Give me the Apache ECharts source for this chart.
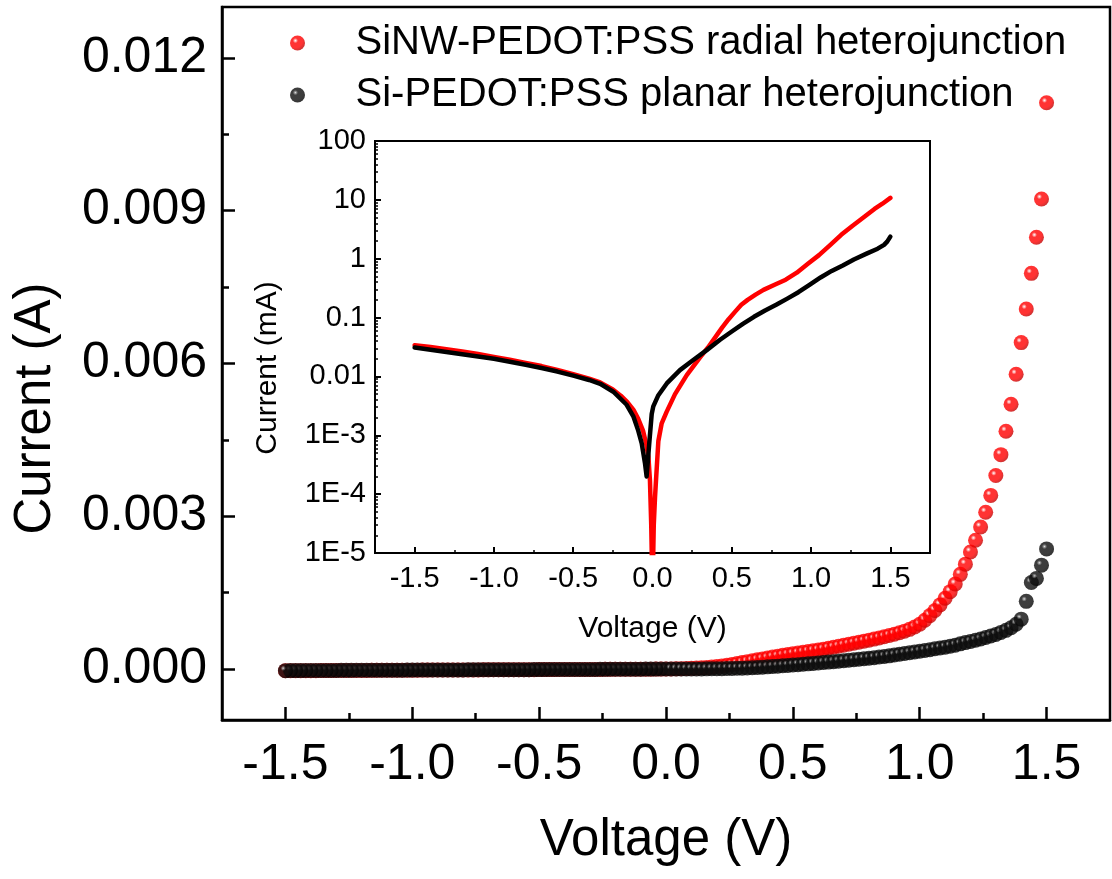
<!DOCTYPE html>
<html>
<head>
<meta charset="utf-8">
<title>I-V characteristics</title>
<script src="https://cdn.jsdelivr.net/npm/echarts@6/dist/echarts.min.js"></script>
<style>
  html, body { margin: 0; padding: 0; background: #fff; }
  #chart { width: 1112px; height: 879px; }
</style>
</head>
<body>
<div id="chart"></div>
<script>
// ---------- data ----------
const seriesNames = ['SiNW-PEDOT:PSS radial heterojunction', 'Si-PEDOT:PSS planar heterojunction'];

// voltage sweep: 0 V down to -1.5 V, then 0 V up to +1.5 V (V)
const reverseVoltage = [0, -0.02, -0.04, -0.06, -0.08, -0.1, -0.12, -0.14, -0.16, -0.18, -0.2, -0.22, -0.24, -0.26, -0.28, -0.3, -0.32, -0.34, -0.36, -0.38, -0.4, -0.42, -0.44, -0.46, -0.48, -0.5, -0.52, -0.54, -0.56, -0.58, -0.6, -0.62, -0.64, -0.66, -0.68, -0.7, -0.72, -0.74, -0.76, -0.78, -0.8, -0.82, -0.84, -0.86, -0.88, -0.9, -0.92, -0.94, -0.96, -0.98, -1, -1.02, -1.04, -1.06, -1.08, -1.1, -1.12, -1.14, -1.16, -1.18, -1.2, -1.22, -1.24, -1.26, -1.28, -1.3, -1.32, -1.34, -1.36, -1.38, -1.4, -1.42, -1.44, -1.46, -1.48, -1.5];
const forwardVoltage = [0.02, 0.04, 0.06, 0.08, 0.1, 0.12, 0.14, 0.16, 0.18, 0.2, 0.22, 0.24, 0.26, 0.28, 0.3, 0.32, 0.34, 0.36, 0.38, 0.4, 0.42, 0.44, 0.46, 0.48, 0.5, 0.52, 0.54, 0.56, 0.58, 0.6, 0.62, 0.64, 0.66, 0.68, 0.7, 0.72, 0.74, 0.76, 0.78, 0.8, 0.82, 0.84, 0.86, 0.88, 0.9, 0.92, 0.94, 0.96, 0.98, 1, 1.02, 1.04, 1.06, 1.08, 1.1, 1.12, 1.14, 1.16, 1.18, 1.2, 1.22, 1.24, 1.26, 1.28, 1.3, 1.32, 1.34, 1.36, 1.38, 1.4, 1.42, 1.44, 1.46, 1.48, 1.5];

// currents in mA
const radialReverse = [0, -0.00026, -0.0006, -0.0012, -0.0017, -0.0022, -0.0027, -0.0032, -0.0036, -0.004, -0.0045, -0.005, -0.0055, -0.006, -0.0065, -0.007, -0.0075, -0.008, -0.0084, -0.0088, -0.0092, -0.0095, -0.0099, -0.0102, -0.0105, -0.0108, -0.0112, -0.0116, -0.012, -0.0124, -0.0128, -0.0132, -0.0136, -0.014, -0.0145, -0.015, -0.0154, -0.0158, -0.0162, -0.0166, -0.017, -0.0175, -0.0179, -0.0183, -0.0188, -0.0192, -0.0196, -0.0201, -0.0205, -0.021, -0.0215, -0.022, -0.0225, -0.023, -0.0235, -0.024, -0.0245, -0.025, -0.0255, -0.026, -0.0265, -0.027, -0.0275, -0.028, -0.0285, -0.029, -0.0295, -0.03, -0.0305, -0.031, -0.0315, -0.032, -0.0325, -0.033, -0.0335, -0.034];
const radialForward = [0.002, 0.004, 0.007, 0.01, 0.014, 0.019, 0.025, 0.032, 0.04, 0.05, 0.062, 0.076, 0.092, 0.11, 0.128, 0.146, 0.164, 0.182, 0.2, 0.218, 0.236, 0.253, 0.269, 0.285, 0.3, 0.315, 0.33, 0.345, 0.36, 0.375, 0.391, 0.409, 0.428, 0.448, 0.468, 0.488, 0.508, 0.528, 0.548, 0.568, 0.589, 0.61, 0.634, 0.659, 0.685, 0.714, 0.745, 0.78, 0.825, 0.88, 0.96, 1.05, 1.15, 1.26, 1.39, 1.52, 1.67, 1.86, 2.06, 2.3, 2.53, 2.79, 3.08, 3.41, 3.8, 4.21, 4.67, 5.2, 5.79, 6.41, 7.07, 7.77, 8.48, 9.23, 11.12];
const planarReverse = [0.0027, 0.0007, -0.0002, -0.0006, -0.001, -0.0015, -0.0021, -0.0027, -0.0032, -0.0037, -0.0042, -0.0047, -0.0053, -0.0058, -0.0063, -0.0068, -0.0073, -0.0077, -0.0081, -0.0085, -0.0088, -0.0091, -0.0094, -0.0097, -0.01, -0.0103, -0.0106, -0.011, -0.0114, -0.0117, -0.0121, -0.0125, -0.0128, -0.0132, -0.0135, -0.0139, -0.0143, -0.0147, -0.0151, -0.0154, -0.0158, -0.0162, -0.0166, -0.017, -0.0174, -0.0178, -0.0182, -0.0186, -0.0191, -0.0195, -0.02, -0.0204, -0.0208, -0.0212, -0.0215, -0.0218, -0.0222, -0.0226, -0.023, -0.0234, -0.0238, -0.0242, -0.0246, -0.0251, -0.0255, -0.026, -0.0264, -0.0269, -0.0274, -0.0279, -0.0285, -0.029, -0.0295, -0.03, -0.0305, -0.031];
const planarForward = [0.0005, 0.0008, 0.0012, 0.0017, 0.0022, 0.0028, 0.0035, 0.0043, 0.0053, 0.0065, 0.008, 0.01, 0.012, 0.015, 0.018, 0.022, 0.027, 0.032, 0.038, 0.044, 0.05, 0.057, 0.064, 0.071, 0.079, 0.087, 0.095, 0.103, 0.111, 0.119, 0.128, 0.137, 0.146, 0.155, 0.164, 0.173, 0.183, 0.193, 0.203, 0.213, 0.224, 0.236, 0.248, 0.26, 0.275, 0.29, 0.305, 0.32, 0.335, 0.35, 0.365, 0.38, 0.4, 0.415, 0.43, 0.45, 0.47, 0.495, 0.52, 0.54, 0.565, 0.59, 0.62, 0.65, 0.68, 0.72, 0.76, 0.81, 0.88, 0.98, 1.33, 1.7, 1.78, 2.04, 2.36];

// |I| (mA) versus V for the semi-log inset
const radialLog = [[-1.5, 0.034], [-1.4, 0.0315], [-1.3, 0.029], [-1.2, 0.0265], [-1.1, 0.024], [-1.0, 0.0215], [-0.9, 0.0192], [-0.8, 0.017], [-0.7, 0.015], [-0.6, 0.0129], [-0.5, 0.0109], [-0.4, 0.0092], [-0.33, 0.0079], [-0.25, 0.006], [-0.2, 0.0047], [-0.16, 0.0037], [-0.12, 0.0027], [-0.09, 0.0019], [-0.06, 0.0012], [-0.04, 0.00072], [-0.026, 0.00044], [-0.016, 0.00017], [-0.008, 0.00003], [0, 0.000002], [0.008, 0.00003], [0.016, 0.00009], [0.022, 0.00017], [0.037, 0.0008], [0.058, 0.0016], [0.089, 0.0025], [0.142, 0.005], [0.216, 0.0105], [0.3, 0.021], [0.35, 0.031], [0.4, 0.048], [0.44, 0.068], [0.48, 0.094], [0.52, 0.125], [0.56, 0.165], [0.6, 0.2], [0.65, 0.245], [0.7, 0.295], [0.77, 0.36], [0.84, 0.44], [0.91, 0.58], [0.98, 0.82], [1.05, 1.15], [1.12, 1.7], [1.19, 2.55], [1.26, 3.6], [1.33, 5.0], [1.4, 7.0], [1.45, 8.6], [1.5, 10.8]];
const planarLog = [[-1.5, 0.031], [-1.4, 0.0285], [-1.3, 0.0261], [-1.2, 0.0238], [-1.1, 0.0218], [-1.0, 0.0199], [-0.9, 0.0178], [-0.8, 0.0158], [-0.7, 0.0139], [-0.6, 0.0121], [-0.5, 0.0103], [-0.4, 0.0087], [-0.33, 0.0075], [-0.247, 0.0055], [-0.163, 0.0033], [-0.121, 0.0021], [-0.09, 0.0012], [-0.068, 0.00073], [-0.047, 0.00033], [-0.037, 0.0002], [-0.021, 0.0007], [-0.005, 0.0023], [0.005, 0.0031], [0.037, 0.0048], [0.09, 0.0076], [0.173, 0.0128], [0.257, 0.019], [0.342, 0.028], [0.426, 0.042], [0.5, 0.058], [0.57, 0.078], [0.64, 0.103], [0.71, 0.132], [0.78, 0.165], [0.85, 0.21], [0.92, 0.27], [0.99, 0.36], [1.06, 0.48], [1.13, 0.62], [1.2, 0.77], [1.27, 0.97], [1.35, 1.22], [1.42, 1.48], [1.46, 1.72], [1.48, 1.95], [1.5, 2.37]];

// tick values and labels
const voltageTicks = [-1.5, -1.0, -0.5, 0, 0.5, 1.0, 1.5];
const voltageTickLabels = ['-1.5', '-1.0', '-0.5', '0.0', '0.5', '1.0', '1.5'];
const voltageMinorTicks = [-1.25, -0.75, -0.25, 0.25, 0.75, 1.25];
const currentTicks = [0, 0.003, 0.006, 0.009, 0.012];
const currentTickLabels = ['0.000', '0.003', '0.006', '0.009', '0.012'];
const currentMinorTicks = [0.0015, 0.0045, 0.0075, 0.0105];
const logTicks = [1e-5, 1e-4, 1e-3, 0.01, 0.1, 1, 10, 100];
const logTickLabels = ['1E-5', '1E-4', '1E-3', '0.01', '0.1', '1', '10', '100'];
const logMinorFactors = [2, 3, 4, 5, 6, 7, 8, 9];

// ---------- helpers ----------
const FONT = "'Liberation Sans', Arial, Helvetica, sans-serif";
const logMinorTicks = [];
logTicks.slice(0, -1).forEach(d => logMinorFactors.forEach(f => logMinorTicks.push(d * f)));

function lookupLabel(values, labels) {
  return function (v) {
    let best = 0;
    for (let i = 1; i < values.length; i++) {
      if (Math.abs(values[i] - v) < Math.abs(values[best] - v)) best = i;
    }
    return labels[best];
  };
}
// mA -> A for the linear plot
function sweep(voltages, currents) {
  return voltages.map((v, i) => [v, currents[i] / 1000]);
}
function sphere(light, glow, mid, dark) {
  return {
    type: 'radial', x: 0.36, y: 0.34, r: 0.72,
    colorStops: [
      { offset: 0, color: light },
      { offset: 0.1, color: glow },
      { offset: 0.24, color: mid },
      { offset: 0.66, color: mid },
      { offset: 1, color: dark }
    ]
  };
}

const radialPoints = sweep(reverseVoltage, radialReverse).concat(sweep(forwardVoltage, radialForward));
const planarPoints = sweep(reverseVoltage, planarReverse).concat(sweep(forwardVoltage, planarForward));

const mainRect = { left: 222, top: 7, right: 2, bottom: 159 };
const insetRect = { left: 375, top: 141, right: 182, bottom: 326 };

function majorAxis(opt) {
  return Object.assign({
    type: 'value',
    splitLine: { show: false },
    axisLine: { show: true, onZero: false, lineStyle: { color: '#000', width: opt.lw } },
    axisTick: { show: true, inside: true, length: opt.tl, customValues: opt.ticks, lineStyle: { color: '#000', width: opt.lw } },
    axisLabel: {
      customValues: opt.ticks,
      formatter: lookupLabel(opt.ticks, opt.labels),
      color: '#000', fontFamily: FONT, fontSize: opt.fs, margin: opt.margin
    },
    nameLocation: 'middle',
    nameTextStyle: { color: '#000', fontFamily: FONT, fontSize: opt.nfs, padding: opt.npad || 0 }
  }, opt.extra);
}
function minorAxis(opt) {
  return Object.assign({
    type: 'value',
    splitLine: { show: false },
    axisLine: { show: false, onZero: false },
    axisTick: { show: true, inside: true, length: opt.tl, customValues: opt.ticks, lineStyle: { color: '#000', width: opt.lw } },
    axisLabel: { show: false, customValues: opt.ticks }
  }, opt.extra);
}

const chart = echarts.init(document.getElementById('chart'), null, { renderer: 'canvas' });
chart.setOption({
  animation: false,
  backgroundColor: '#fff',
  grid: [
    Object.assign({ show: true, borderColor: '#000', borderWidth: 2.5, backgroundColor: 'transparent', outerBoundsMode: 'none' }, mainRect),
    Object.assign({ show: false, outerBoundsMode: 'none' }, mainRect),
    Object.assign({ show: true, borderColor: '#000', borderWidth: 2, backgroundColor: '#fff', outerBoundsMode: 'none' }, insetRect),
    Object.assign({ show: false, outerBoundsMode: 'none' }, insetRect)
  ],
  legend: {
    data: seriesNames,
    orient: 'vertical',
    left: 290, top: 20,
    padding: 0,
    itemWidth: 106, itemHeight: 15, itemGap: 6,
    icon: 'circle',
    selectedMode: false,
    textStyle: { color: '#000', fontFamily: FONT, fontSize: 40, lineHeight: 46 }
  },
  xAxis: [
    majorAxis({ lw: 2.5, tl: 13, ticks: voltageTicks, labels: voltageTickLabels, fs: 50, margin: 20, nfs: 51,
      extra: { gridIndex: 0, min: -1.75, max: 1.75, position: 'bottom', name: 'Voltage (V)', nameGap: 95 } }),
    minorAxis({ lw: 2.5, tl: 7, ticks: voltageMinorTicks, extra: { gridIndex: 1, min: -1.75, max: 1.75, position: 'bottom' } }),
    majorAxis({ lw: 2, tl: 6, ticks: voltageTicks, labels: voltageTickLabels, fs: 29, margin: 11, nfs: 30,
      extra: { gridIndex: 2, min: -1.75, max: 1.75, position: 'bottom', name: 'Voltage (V)', nameGap: 61 } }),
    minorAxis({ lw: 1.5, tl: 3, ticks: voltageMinorTicks, extra: { gridIndex: 3, min: -1.75, max: 1.75, position: 'bottom' } })
  ],
  yAxis: [
    majorAxis({ lw: 2.5, tl: 13, ticks: currentTicks, labels: currentTickLabels, fs: 50, margin: 15, nfs: 51, npad: [0, 90, 0, 0],
      extra: { gridIndex: 0, min: -0.001, max: 0.013, position: 'left', name: 'Current (A)', nameGap: 161 } }),
    minorAxis({ lw: 2.5, tl: 7, ticks: currentMinorTicks, extra: { gridIndex: 1, min: -0.001, max: 0.013, position: 'left' } }),
    majorAxis({ lw: 2, tl: 6, ticks: logTicks, labels: logTickLabels, fs: 29, margin: 9, nfs: 30, npad: [0, 42, 0, 0],
      extra: { gridIndex: 2, type: 'log', logBase: 10, min: 1e-5, max: 100, position: 'left', name: 'Current (mA)', nameGap: 92 } }),
    minorAxis({ lw: 1.5, tl: 3, ticks: logMinorTicks, extra: { gridIndex: 3, type: 'log', logBase: 10, min: 1e-5, max: 100, position: 'left' } })
  ],
  series: [
    {
      name: seriesNames[0], type: 'scatter', xAxisIndex: 0, yAxisIndex: 0,
      symbol: 'circle', symbolSize: 15,
      itemStyle: { color: sphere('#ffffff', '#ff9c9c', '#ff0000', '#b80000') },
      data: radialPoints, z: 3
    },
    {
      name: seriesNames[1], type: 'scatter', xAxisIndex: 0, yAxisIndex: 0,
      symbol: 'circle', symbolSize: 15,
      itemStyle: { color: sphere('#dddddd', '#777777', '#0d0d0d', '#000000') },
      data: planarPoints, z: 3
    },
    {
      name: 'radial |I|', type: 'line', xAxisIndex: 2, yAxisIndex: 2,
      showSymbol: false, symbol: 'none', clip: true,
      lineStyle: { color: '#ff0000', width: 4.5, join: 'round', cap: 'round' },
      data: radialLog, z: 4
    },
    {
      name: 'planar |I|', type: 'line', xAxisIndex: 2, yAxisIndex: 2,
      showSymbol: false, symbol: 'none', clip: true,
      lineStyle: { color: '#000000', width: 4.5, join: 'round', cap: 'round' },
      data: planarLog, z: 4
    }
  ]
});
</script>
</body>
</html>
